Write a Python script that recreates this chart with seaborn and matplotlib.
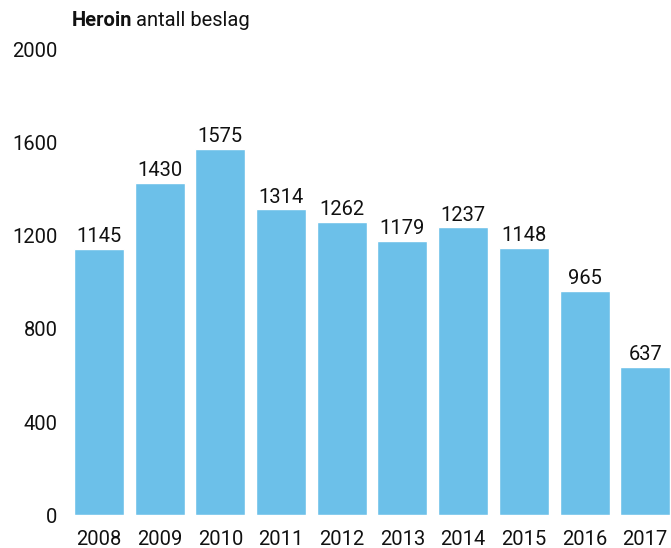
import seaborn as sns
import matplotlib.pyplot as plt
import pandas as pd

years = ["2008", "2009", "2010", "2011", "2012", "2013", "2014", "2015", "2016", "2017"]
seizures = [1145, 1430, 1575, 1314, 1262, 1179, 1237, 1148, 965, 637]
y_ticks = [0, 400, 800, 1200, 1600, 2000]

bar_color = "#6cc0e9"

sns.set_style("white")
plt.rcParams["font.family"] = ["Roboto", "DejaVu Sans"]

df = pd.DataFrame({"year": years, "count": seizures})

fig = plt.figure(figsize=(6.71, 5.48), dpi=100)
ax = fig.add_axes([0.1022, 0.0602, 0.9046, 0.8486])

sns.barplot(data=df, x="year", y="count", color=bar_color, width=0.824,
            saturation=1, ax=ax)

for c in ax.containers:
    ax.bar_label(c, labels=[str(v) for v in seizures], padding=2,
                 fontsize=14.5, color="#111111")

ax.set_xlim(-0.5, len(years) - 0.5)
ax.set_ylim(0, 2000)
ax.set_yticks(y_ticks)
ax.set_yticklabels([str(t) for t in y_ticks])
ax.set_xlabel("")
ax.set_ylabel("")
ax.tick_params(axis="both", length=0, labelsize=14.5, colors="#111111")
ax.tick_params(axis="x", pad=11)
ax.tick_params(axis="y", pad=8)
sns.despine(ax=ax, left=True, bottom=True)

# title: bold "Heroin" followed by regular text
t1 = fig.text(72 / 671, 1 - 21 / 548, "Heroin", fontsize=14.5, fontweight="bold",
              va="center", ha="left", color="#111111")
fig.canvas.draw()
bb = t1.get_window_extent()
fig.text((bb.x1 + 4) / fig.bbox.width, 1 - 21 / 548, "antall beslag", fontsize=14.5,
         va="center", ha="left", color="#111111")

fig.savefig("out.png", dpi=100)
